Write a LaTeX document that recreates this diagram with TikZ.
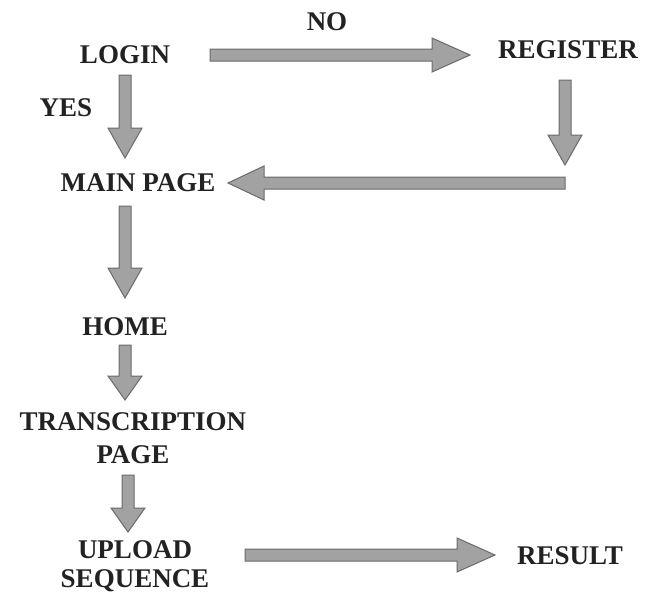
\documentclass[tikz,border=0pt]{standalone}
\usepackage{fontspec}
\setmainfont{Liberation Serif}
\usetikzlibrary{calc}
\definecolor{ink}{HTML}{222222}
\definecolor{arrfill}{HTML}{A2A2A2}
\definecolor{arrline}{HTML}{6A6A6A}
\tikzset{
  lbl/.style={font=\bfseries\fontsize{27}{29}\selectfont, text=ink, inner sep=0pt, align=center},
  fat/.style={fill=arrfill, draw=arrline, line width=1pt, line join=miter,
    to path={let \p1=($(\tikztotarget)!#1pt!(\tikztostart)$) in
      ($(\tikztostart)!6pt!90:(\tikztotarget)$) -- ($(\p1)!6pt!90:(\tikztotarget)$) --
      ($(\p1)!17pt!90:(\tikztotarget)$) -- (\tikztotarget) --
      ($(\p1)!17pt!-90:(\tikztotarget)$) -- ($(\p1)!6pt!-90:(\tikztotarget)$) --
      ($(\tikztostart)!6pt!-90:(\tikztotarget)$) -- cycle}},
  fat/.default=30
}
\begin{document}
\begin{tikzpicture}[x=1pt,y=-1pt]
\useasboundingbox (0,0) rectangle (657,597);
\fill[white] (0,0) rectangle (657,597);
\node[lbl] (no) at (327,22) {NO};
\node[lbl] (login) at (125,55) {LOGIN};
\node[lbl] (register) at (568,50) {REGISTER};
\node[lbl] (yes) at (66,108) {YES};
\node[lbl] (main) at (138,183) {MAIN PAGE};
\node[lbl] (home) at (125,327) {HOME};
\node[lbl, font=\bfseries\fontsize{27}{33}\selectfont] (trans) at (133,438) {TRANSCRIPTION\\PAGE};
\node[lbl, font=\bfseries\fontsize{27}{29}\selectfont] (upload) at (135,566) {UPLOAD\\SEQUENCE};
\node[lbl] (result) at (570,556) {RESULT};
% arrow end points
\coordinate (a1s) at (210,55);  \coordinate (a1e) at (470,55);
\coordinate (a2s) at (125,75);  \coordinate (a2e) at (125,158);
\coordinate (a3s) at (565,80);  \coordinate (a3e) at (565,165);
\coordinate (a4s) at (565,183); \coordinate (a4e) at (228,183);
\coordinate (a5s) at (125,206); \coordinate (a5e) at (125,298);
\coordinate (a6s) at (125,345); \coordinate (a6e) at (125,400);
\coordinate (a7s) at (128,475); \coordinate (a7e) at (128,532);
\coordinate (a8s) at (245,555); \coordinate (a8e) at (495,555);
\path[fat=38] (a1s) to (a1e);
\path[fat] (a2s) to (a2e);
\path[fat] (a3s) to (a3e);
\path[fat=36] (a4s) to (a4e);
\path[fat] (a5s) to (a5e);
\path[fat=24] (a6s) to (a6e);
\path[fat=24] (a7s) to (a7e);
\path[fat=38] (a8s) to (a8e);
\end{tikzpicture}
\end{document}
